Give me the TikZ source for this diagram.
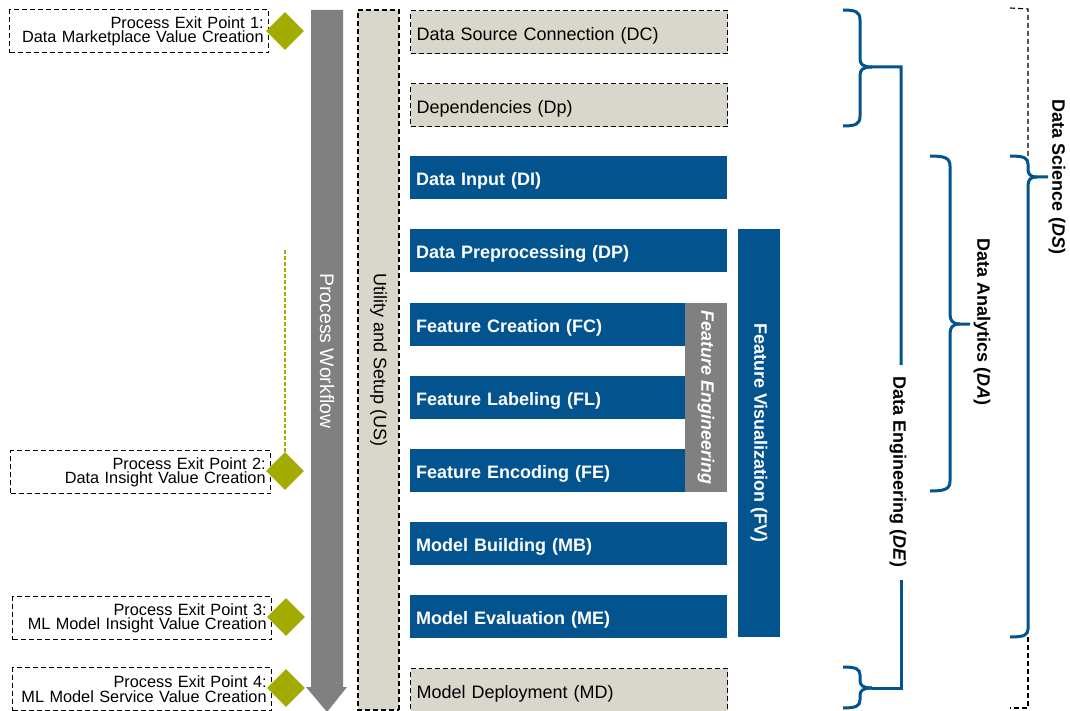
\documentclass[tikz,border=0pt]{standalone}
\usepackage{fontspec}
\setmainfont{Liberation Sans}
\usetikzlibrary{shapes.geometric}

\definecolor{dsblue}{HTML}{03538F}
\definecolor{sand}{HTML}{D9D7CC}
\definecolor{midgray}{HTML}{808080}
\definecolor{olive}{HTML}{A3AA00}

% tight two-line labels
\newcommand\exitfont{\fontsize{16.3}{14.3}\selectfont\lineskiplimit=-20pt\relax}

\begin{document}
\begin{tikzpicture}[x=1pt,y=-1pt,
  dashedline/.style={draw=black, line width=1.3pt, dash pattern=on 5pt off 3pt},
  stage/.style={anchor=north west, minimum height=43pt, inner xsep=6pt, inner ysep=0pt,
    text width=305pt, text height=15.5pt, text depth=0pt, align=left,
    font=\fontsize{18}{21}\selectfont},
  bluestage/.style={stage, fill=dsblue, text=white, font=\fontsize{18}{21}\selectfont\bfseries},
  sandstage/.style={stage, fill=sand, dashedline, text height=16.5pt},
  exitbox/.style={anchor=north west, dashedline, minimum height=43pt, inner xsep=5pt,
    inner ysep=0pt, align=right, font=\exitfont},
  exitmark/.style={diamond, fill=olive, minimum width=38pt, minimum height=38pt, inner sep=0pt},
  bar/.style={rotate=-90, inner sep=0pt},
  bracket/.style={draw=dsblue, line width=3pt},
  bracketlabel/.style={rotate=-90, font=\fontsize{18}{21}\selectfont\bfseries, fill=white, inner sep=0pt},
]
\useasboundingbox (0,0) rectangle (1070,711);

% exit points on the left
\node[exitbox, text width=249pt] (ex1) at (9,9) {Process Exit Point 1:\\Data Marketplace Value Creation};
\node[exitbox, text width=250pt] (ex2) at (10,450) {Process Exit Point 2:\\Data Insight Value Creation};
\node[exitbox, text width=249pt] (ex3) at (12,596) {Process Exit Point 3:\\ML Model Insight Value Creation};
\node[exitbox, text width=249pt] (ex4) at (12,667) {Process Exit Point 4:\\ML Model Service Value Creation};

\node[exitmark] (d1) at (285,31) {};
\node[exitmark] (d2) at (285,471) {};
\node[exitmark] (d3) at (286,617) {};
\node[exitmark] (d4) at (286,688) {};

\coordinate (d2top) at (285,250);
\draw[olive, line width=1.3pt, dash pattern=on 4pt off 2pt] (d2top) -- (d2.north);

% process workflow arrow
\fill[midgray] (311,10) -- (343,10) -- (343,687) -- (347,687) -- (327,712) -- (306,687) -- (311,687) -- cycle;
\node[rotate=-90, text=white, font=\fontsize{19.5}{22}\selectfont] (pw) at (327,351) {Process Workflow};

% utility column
\node[bar, fill=sand, dashedline, minimum width=700pt, minimum height=41pt,
  font=\fontsize{18}{21}\selectfont] (US) at (378.5,360) {Utility and Setup (US)};

% workflow stages
\node[sandstage] (DC) at (410,10) {Data Source Connection (DC)};
\node[sandstage] (Dp) at (410,83) {Dependencies (Dp)};
\node[bluestage] (DI) at (410,156) {Data Input (DI)};
\node[bluestage] (DP) at (410,229) {Data Preprocessing (DP)};
\node[bluestage, text width=263pt] (FC) at (410,303) {Feature Creation (FC)};
\node[bluestage, text width=263pt] (FL) at (410,376) {Feature Labeling (FL)};
\node[bluestage, text width=263pt] (FE) at (410,449) {Feature Encoding (FE)};
\node[bluestage] (MB) at (410,522) {Model Building (MB)};
\node[bluestage] (ME) at (410,595) {Model Evaluation (ME)};
\node[sandstage] (MD) at (410,668) {Model Deployment (MD)};

\node[bar, fill=midgray, text=white, minimum width=189pt, minimum height=42pt,
  font=\fontsize{18}{21}\selectfont\bfseries\itshape] (FEng) at (706,397.5) {Feature Engineering};
\node[bar, fill=dsblue, text=white, minimum width=408pt, minimum height=42pt,
  font=\fontsize{18}{21}\selectfont\bfseries] (FV) at (759,433) {Feature Visualization (FV)};

% data engineering bracket
\draw[bracket] (843,10) .. controls (856,10) and (860,12) .. (860,20) -- (860,58)
  .. controls (860,64) and (862,67) .. (872,67) -- (901,67) -- (901,365);
\draw[bracket] (872,67) .. controls (862,67) and (860,70) .. (860,76) -- (860,116)
  .. controls (860,124) and (856,126) .. (843,126);
\draw[bracket] (901,580) -- (901,688) -- (872,688);
\draw[bracket] (843,667) .. controls (856,667) and (860,669) .. (860,675) -- (860,680)
  .. controls (860,685) and (862,688) .. (872,688);
\draw[bracket] (872,688) .. controls (862,688) and (860,691) .. (860,696) -- (860,700)
  .. controls (860,706) and (856,708) .. (843,708);
\node[bracketlabel] (DE) at (898,472) {Data Engineering (\textit{DE})};

% data analytics bracket
\draw[bracket] (930,156) .. controls (945,156) and (950,158) .. (950,166) -- (950,314)
  .. controls (950,320) and (952,324) .. (960,324) -- (970,324);
\draw[bracket] (960,324) .. controls (952,324) and (950,328) .. (950,334) -- (950,481)
  .. controls (950,489) and (945,491) .. (930,491);
\node[bracketlabel] (DA) at (982,322) {Data Analytics (\textit{DA})};

% data science bracket
\draw[black, line width=1.1pt, dash pattern=on 5pt off 3pt] (1010,8) -- (1028,9) -- (1028,156);
\draw[black, line width=1.1pt, dash pattern=on 5pt off 3pt] (1028,637) -- (1028,708) -- (1010,708);
\draw[bracket] (1010,156) .. controls (1024,156) and (1028,158) .. (1028,164) -- (1028,169)
  .. controls (1028,174) and (1030,177) .. (1037,177) -- (1048,177);
\draw[bracket] (1037,177) .. controls (1030,177) and (1028,180) .. (1028,186) -- (1028,629)
  .. controls (1028,635) and (1024,637) .. (1010,637);
\node[bracketlabel] (DS) at (1057,177) {Data Science (\textit{DS})};
\end{tikzpicture}
\end{document}
